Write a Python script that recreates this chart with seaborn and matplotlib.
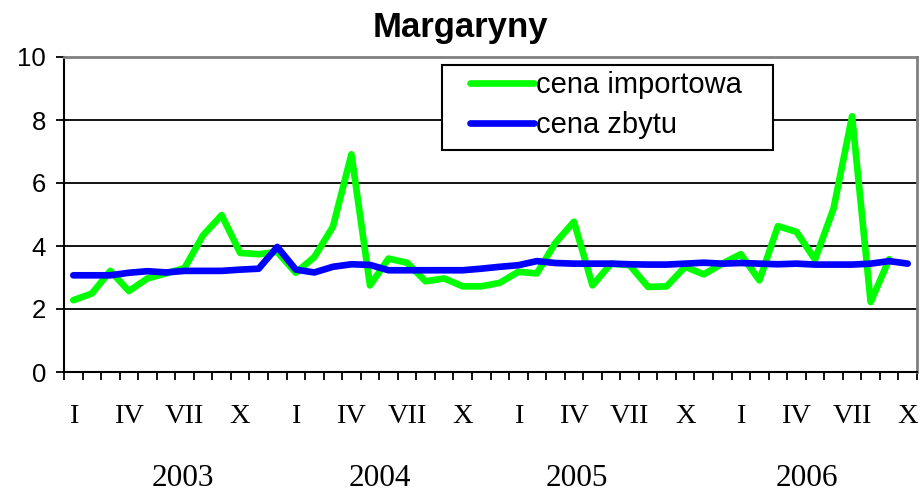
import numpy as np
import pandas as pd
import matplotlib
matplotlib.use("Agg")
import matplotlib.pyplot as plt
from matplotlib.patches import Rectangle
import seaborn as sns

# ---- data ----
years = ["2003", "2004", "2005", "2006"]
month_labels = ["I", "IV", "VII", "X"]
n_months = 46  # Jan 2003 .. Oct 2006

cena_importowa = [
    2.28, 2.49, 3.21, 2.57, 2.97, 3.13, 3.30, 4.34, 4.98, 3.78, 3.74, 3.81,
    3.15, 3.65, 4.61, 6.91, 2.75, 3.60, 3.47, 2.88, 2.97, 2.72, 2.72, 2.83,
    3.18, 3.13, 4.10, 4.77, 2.75, 3.44, 3.39, 2.70, 2.72, 3.34, 3.10, 3.44,
    3.74, 2.91, 4.63, 4.45, 3.57, 5.19, 8.12, 2.22, 3.58,
]
cena_zbytu = [
    3.07, 3.07, 3.07, 3.15, 3.20, 3.16, 3.21, 3.21, 3.21, 3.25, 3.28, 3.97,
    3.25, 3.16, 3.34, 3.42, 3.40, 3.23, 3.23, 3.23, 3.23, 3.23, 3.28, 3.34,
    3.39, 3.52, 3.46, 3.44, 3.44, 3.44, 3.42, 3.41, 3.41, 3.44, 3.47, 3.44,
    3.46, 3.44, 3.42, 3.44, 3.41, 3.41, 3.41, 3.44, 3.52, 3.44,
]

df = pd.concat([
    pd.DataFrame({"x": np.arange(len(cena_importowa)), "y": cena_importowa,
                  "seria": "cena importowa"}),
    pd.DataFrame({"x": np.arange(len(cena_zbytu)), "y": cena_zbytu,
                  "seria": "cena zbytu"}),
], ignore_index=True)

sns.set_theme(style="white")
plt.rcParams["font.family"] = ["Liberation Sans", "DejaVu Sans"]
plt.rcParams["text.color"] = "black"
plt.rcParams["xtick.color"] = "black"
plt.rcParams["ytick.color"] = "black"
plt.rcParams["axes.labelcolor"] = "black"

W, H = 921, 492
fig = plt.figure(figsize=(W / 100, H / 100), dpi=100)
ax = fig.add_axes([64 / W, 1 - 372 / H, 853 / W, 315 / H])

sns.lineplot(data=df, x="x", y="y", hue="seria",
             palette={"cena importowa": "#00FF00", "cena zbytu": "#0000FF"},
             linewidth=4.8, ax=ax, legend=True, solid_capstyle="round")

ax.set_xlim(-0.5, n_months - 0.5)
ax.set_ylim(0, 10)
ax.set_xlabel("")
ax.set_ylabel("")

# gridlines
for v in [2, 4, 6, 8]:
    ax.axhline(v, color="black", lw=1.3, zorder=0.5)

# spines
for s in ["left", "bottom"]:
    ax.spines[s].set_color("black")
    ax.spines[s].set_linewidth(1.5)
for s in ["top", "right"]:
    ax.spines[s].set_color("#808080")
    ax.spines[s].set_linewidth(2)

# y ticks
ax.set_yticks([0, 2, 4, 6, 8, 10])
ax.set_yticklabels(["0", "2", "4", "6", "8", "10"], fontsize=18.5)
ax.tick_params(axis="y", direction="out", length=6, width=1.3, color="black",
               pad=7, left=True, labelcolor="black")

# x ticks at category boundaries
ax.set_xticks(np.arange(-0.5, n_months, 1.0))
ax.set_xticklabels([])
ax.tick_params(axis="x", direction="out", length=6, width=1.3, color="black",
               bottom=True)

serif = ["Liberation Serif", "DejaVu Serif"]
for yi, yr in enumerate(years):
    for mi, ml in enumerate(month_labels):
        idx = yi * 12 + mi * 3
        if idx < n_months:
            ax.text(idx, -0.14, ml, transform=ax.get_xaxis_transform(),
                    ha="center", va="center", fontsize=20.5, family=serif,
                    color="black")
year_pos = [5.92, 16.54, 27.17, 39.57]
for xp, yr in zip(year_pos, years):
    ax.text(xp, -0.337, yr, transform=ax.get_xaxis_transform(),
            ha="center", va="center", fontsize=22.5, family=serif,
            color="black")

fig.text(460 / W, 1 - 27 / H, "Margaryny", ha="center", va="center",
         fontsize=25, fontweight="bold", color="black")

# legend: frame drawn separately to match the wide horizontal padding
frame = Rectangle((442 / W, 1 - 150 / H), (773 - 442) / W, (150 - 65) / H,
                  transform=fig.transFigure, facecolor="white",
                  edgecolor="black", lw=1.5, zorder=5, clip_on=False)
ax.add_patch(frame)
leg = ax.legend(loc="upper left", bbox_to_anchor=(470 / W, 1 - 71 / H),
                bbox_transform=fig.transFigure,
                borderaxespad=0, borderpad=0, fontsize=21, frameon=False,
                handlelength=2.2, handletextpad=0.06,
                labelspacing=0.42)
leg.set_zorder(6)
for h in leg.get_lines():
    h.set_linewidth(4.8)
    h.set_solid_capstyle("round")

fig.savefig("out.png", dpi=100, facecolor="white")
